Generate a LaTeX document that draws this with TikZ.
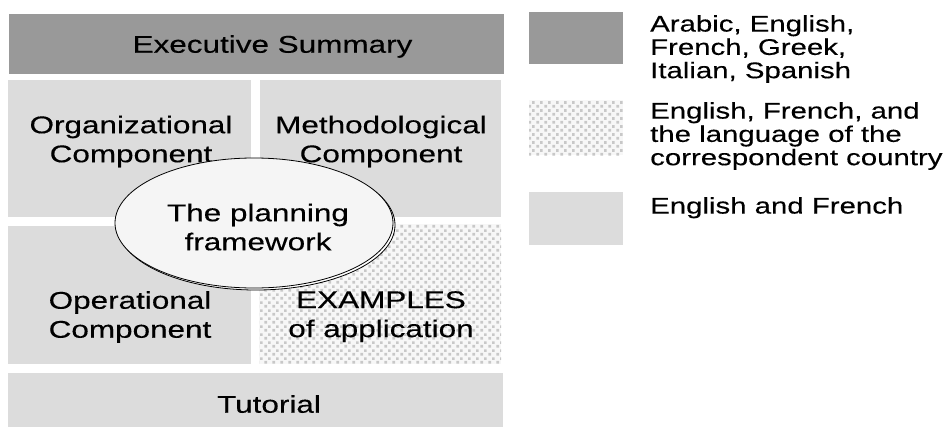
\documentclass[tikz,border=0pt]{standalone}
\usepackage{fontspec}
\setmainfont{Liberation Sans}[FakeStretch=1.3,FakeBold=0.3]
\usetikzlibrary{patterns.meta,shapes.geometric,shadows}
\definecolor{darkfill}{HTML}{999999}
\definecolor{lightfill}{HTML}{DCDCDC}
\definecolor{grainfill}{HTML}{C8C8C8}
\definecolor{grainback}{HTML}{F7F7F7}
\definecolor{ellfill}{HTML}{F5F5F5}
\tikzdeclarepattern{
  name=grain,
  type=uncolored,
  bounding box={(0pt,0pt) and (8pt,8pt)},
  tile size={(8pt,8pt)},
  code={
    \fill (0.5pt,0.5pt) rectangle (3.5pt,3.5pt);
    \fill (4.5pt,4.5pt) rectangle (7.5pt,7.5pt);
  }
}
\begin{document}
\begin{tikzpicture}[x=1pt,y=-1pt,
  txt/.style={font=\fontsize{24.2}{29}\selectfont, align=center, inner sep=0pt, anchor=north},
  legtxt/.style={font=\fontsize{22.6}{23.3}\selectfont, align=left, inner sep=0pt, anchor=north west},
  darkbox/.style={fill=darkfill, draw=none, inner sep=0pt},
  lightbox/.style={fill=lightfill, draw=none, inner sep=0pt},
  grainbox/.style={fill=grainback, draw=none, inner sep=0pt, pattern={grain}, pattern color=grainfill},
  framework/.style={ellipse, draw=black, line width=0.8pt, fill=ellfill, inner sep=0pt,
    drop shadow={shadow xshift=2pt, shadow yshift=-2pt, fill=white, draw=black, line width=0.8pt, opacity=1}}
]
\useasboundingbox (0,0) rectangle (945,428);

% main boxes
\node[darkbox, minimum width=495pt, minimum height=60pt] (exec) at (256.5,44) {};
\node[lightbox, minimum width=243pt, minimum height=137pt] (org) at (129.5,148.5) {};
\node[lightbox, minimum width=241pt, minimum height=137pt] (meth) at (380.5,148.5) {};
\node[lightbox, minimum width=243pt, minimum height=138pt] (oper) at (129.5,295) {};
\fill[grainback] (259,224) rectangle (501,364);
\node[grainbox, minimum width=242pt, minimum height=140pt] (exam) at (380,294) {};
\node[lightbox, minimum width=495pt, minimum height=54pt] (tut) at (255.5,400) {};

% texts
\node[txt] (exectxt) at (272.5,35) {Executive Summary};
\node[txt] (orgtxt) at (131,115.5) {Organizational\\Component};
\node[txt] (methtxt) at (381,115.5) {Methodological\\Component};
\node[txt] (opertxt) at (130,291) {Operational\\Component};
\node[txt] (examtxt) at (381,291) {EXAMPLES\\of application};
\node[txt] (tuttxt) at (269,395) {Tutorial};

% planning framework ellipse
\node[framework, minimum width=278pt, minimum height=130pt] (frame) at (254,223) {};
\node[txt] (frametxt) at (258,203.5) {The planning\\framework};

% legend
\node[darkbox, minimum width=94pt, minimum height=52pt] (legdark) at (576,38) {};
\fill[grainback] (529,100) rectangle (623,155);
\node[grainbox, minimum width=94pt, minimum height=55pt] (leggrain) at (576,127.5) {};
\node[lightbox, minimum width=94pt, minimum height=53pt] (leglight) at (576,218.5) {};

\node[legtxt] (legdarktxt) at (650,15) {Arabic, English,\\French, Greek,\\Italian, Spanish};
\node[legtxt] (leggraintxt) at (650,102) {English, French, and\\the language of the\\correspondent country};
\node[legtxt] (leglighttxt) at (650,197) {English and French};
\end{tikzpicture}
\end{document}
